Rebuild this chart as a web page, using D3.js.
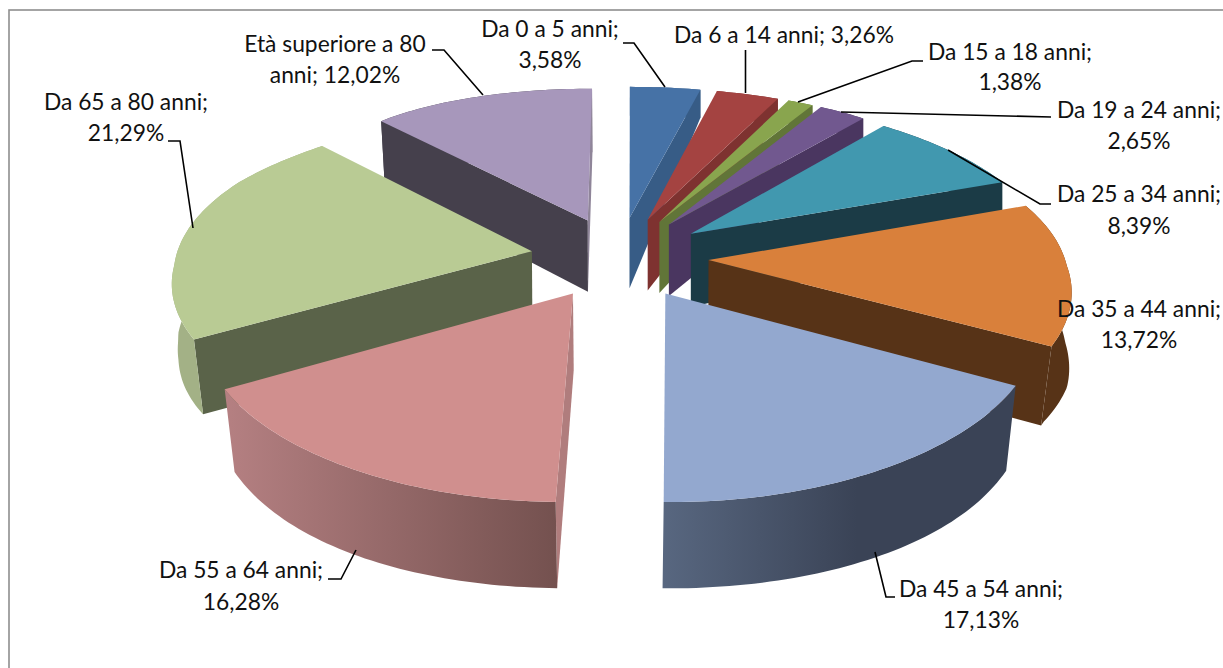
<!DOCTYPE html>
<html><head><meta charset="utf-8">
<style>html,body{margin:0;padding:0;background:#fff;overflow:hidden}svg{display:block}text{font-family:Lato,"Open Sans",sans-serif;font-size:22.8px;fill:#111}</style>
<script src="https://cdn.jsdelivr.net/npm/d3@7/dist/d3.min.js"></script>
</head><body><svg id="c" width="1223" height="668"></svg>
<script>
// ---- data ----
const categories = ["Da 0 a 5 anni","Da 6 a 14 anni","Da 15 a 18 anni","Da 19 a 24 anni","Da 25 a 34 anni","Da 35 a 44 anni","Da 45 a 54 anni","Da 55 a 64 anni","Da 65 a 80 anni","Età superiore a 80 anni"];
const values = [3.58,3.26,1.38,2.65,8.39,13.72,17.13,16.28,21.29,12.02];
const labelLines = [
 ["Da 0 a 5 anni;","3,58%"],["Da 6 a 14 anni; 3,26%"],["Da 15 a 18 anni;","1,38%"],["Da 19 a 24 anni;","2,65%"],
 ["Da 25 a 34 anni;","8,39%"],["Da 35 a 44 anni;","13,72%"],["Da 45 a 54 anni;","17,13%"],["Da 55 a 64 anni;","16,28%"],
 ["Da 65 a 80 anni;","21,29%"],["Età superiore a 80","anni; 12,02%"]];
// ---- style ----
const topColors  = ["#4672a6","#a44341","#89a54e","#71588f","#4198af","#d9803b","#93a8cf","#d08f8e","#b9cb94","#a797bb"];
const startWall  = ["#375c86","#7e3230","#617538","#4a3660","#1b3b46","#573317","#3c4558","#b07d7d","#5a6349","#45404c"];
const endWall    = ["#375c86","#7e3230","#617538","#4a3660","#1b3b46","#573317","#3c4558","#b07d7d","#5a6349","#8f8599"];
const rimFrom    = ["#375c86","#7e3230","#617538","#4a3660","#1b3b46","#573317","#586780","#b58082","#a3b186","#45404c"];
const rimTo      = ["#375c86","#7e3230","#617538","#4a3660","#1b3b46","#573317","#3a4356","#74514f","#a3b186","#8f8599"];
const rimStart   = [0,0,0,0,0,0,0,0,0,90];
const rimMid     = [100,100,100,100,100,100,55,100,100,98];
// ---- label layout: [centre x, first baseline, second baseline], leader polyline ----
const labelPos = [[550,37,68],[784,43,0],[1010,60,90],[1139,118,149],[1139,202,234],[1139,317,348],[981,597,628],[241,578,610],[126,110,141],[335,52,83]];
const leaders = [
 [[623,43],[634,43],[665,87]],
 [[745.5,50],[745.5,93]],
 [[923,61],[912,61],[798,102]],
 [[1051,117],[841,112]],
 [[1051,204],[1040,204],[948,150]],
 null,
 [[895,597],[886,597],[875,552]],
 [[328,579],[341,579],[356,550]],
 [[168,141],[180,141],[193,228]],
 [[432,50],[444,50],[483,95]]];
// ---- projection of the exploded pie: depth Y (back positive) maps through fitted perspective scales ----
const explode=0.25, cy=257, A=163, K=0.157;
const centreX = d3.scaleLinear().domain([-1.215,-0.7,0.5,0.95,1.25]).range([617,619,620,623,621]);
const scaleX  = d3.scaleLinear().domain([-1.215,-0.7,-0.49,-0.05,0.5,0.95,1.25]).range([430,397,384,358,335,310,315]);
const topY    = Y=>cy-A*Y/(1+K*Y);
const bottomYRight = d3.scaleLinear().domain([-1.215,-0.49,0.25,0.98,1.22]).range([588,422,288,138,118]);
const bottomYLeft  = d3.scaleLinear().domain([-1.215,-0.49,0.23,0.947,1.25]).range([588,418,292,188,150]);
const shrinkRight  = d3.scaleLinear().domain([-0.497,-0.3,0.15]).range([0.976,0.993,1]).clamp(true);
const shrinkLeft   = d3.scaleLinear().domain([-0.7,-0.49,-0.16,0,0.3,0.95]).range([0.975,0.978,0.985,0.994,0.995,0.985]).clamp(true);
const proj = (X,Y,low)=>{
  if(!low) return [centreX(Y)+X*scaleX(Y), topY(Y)];
  const s = X<0 ? shrinkLeft(Y) : shrinkRight(Y);
  return [centreX(Y)+X*scaleX(Y)*s, X<0 ? bottomYLeft(Y) : bottomYRight(Y)];
};
const svg=d3.select("#c");
svg.append("rect").attr("x",9).attr("y",10).attr("width",1400).attr("height",900).attr("fill","#fff").attr("stroke","#8e8e8e").attr("stroke-width",1.6);
const defs=svg.append("defs");
const pie=d3.pie().sort(null)(values);
const slices=pie.map((p,i)=>{
  const m=(p.startAngle+p.endAngle)/2;
  const ox=explode*Math.sin(m), oy=explode*Math.cos(m);
  const n=Math.max(4,Math.ceil((p.endAngle-p.startAngle)/0.02));
  const angles=d3.range(n+1).map(k=>p.startAngle+(p.endAngle-p.startAngle)*k/n);
  const rim=angles.map(a=>[ox+Math.sin(a),oy+Math.cos(a)]);
  return {i,oy,ox,rim};
});
const line=d3.line();
slices.slice().sort((a,b)=>b.oy-a.oy).forEach(s=>{
  const i=s.i, g=svg.append("g").attr("class","slice").attr("data-cat",categories[i]);
  const rt=s.rim.map(r=>proj(r[0],r[1],false)), rb=s.rim.map(r=>proj(r[0],r[1],true));
  const at=proj(s.ox,s.oy,false), ab=proj(s.ox,s.oy,true);
  const id="rim"+i;
  const gr=defs.append("linearGradient").attr("id",id);
  gr.append("stop").attr("offset",rimStart[i]+"%").attr("stop-color",rimFrom[i]);
  gr.append("stop").attr("offset",rimMid[i]+"%").attr("stop-color",rimTo[i]);
  // radial walls: only those that face the viewer
  const last=rt.length-1;
  if(rt[0][0]<at[0]) g.append("path").attr("d",line([at,rt[0],rb[0],ab])+"Z").attr("fill",startWall[i]);
  if(rt[last][0]>at[0]) g.append("path").attr("d",line([at,rt[last],rb[last],ab])+"Z").attr("fill",endWall[i]);
  // rim wall
  g.append("path").attr("d",line(rt.concat(rb.slice().reverse()))+"Z").attr("fill",`url(#${id})`);
  // top
  g.append("path").attr("d",line([at].concat(rt))+"Z").attr("fill",topColors[i]);
});
leaders.forEach(l=>{ if(l) svg.append("path").attr("d",line(l)).attr("fill","none").attr("stroke","#000").attr("stroke-width",1.6); });
labelLines.forEach((ls,i)=>{
  const t=svg.append("text").attr("text-anchor","middle");
  ls.forEach((s,j)=>t.append("tspan").attr("x",labelPos[i][0]).attr("y",labelPos[i][j+1]).text(s));
});
</script></body></html>
